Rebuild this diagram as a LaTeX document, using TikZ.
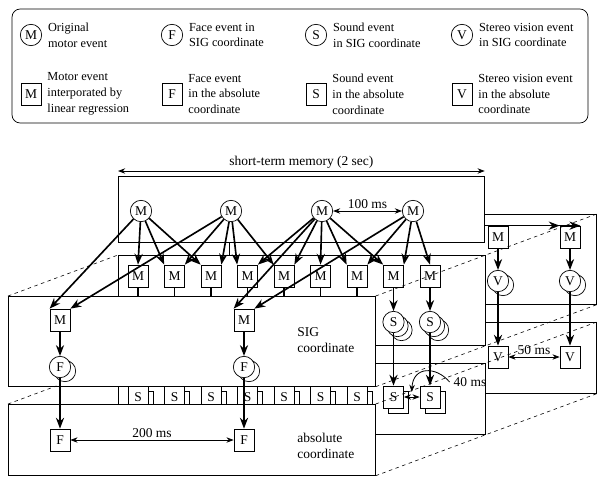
\documentclass[tikz,border=0pt]{standalone}
\usepackage{fontspec}
\setmainfont{Liberation Serif}
\usetikzlibrary{arrows.meta,calc,positioning}

\begin{document}
\begin{tikzpicture}[>=Stealth, x=0.03cm, y=-0.03cm,
  font=\fontsize{11.5}{13.6}\selectfont,
  plane/.style={draw, fill=white, line width=0.6pt, inner sep=0pt, anchor=north west, minimum width=11.01cm},
  sigplane/.style={plane, minimum height=2.7cm},
  absplane/.style={plane, minimum height=2.13cm},
  orig/.style={circle, draw, fill=white, line width=0.6pt, inner sep=0pt, minimum size=0.64cm},
  evt/.style={draw, fill=white, line width=0.6pt, inner sep=0pt, minimum width=0.6cm, minimum height=0.66cm},
  flow/.style={->, line width=1.4pt},
  span/.style={<->, line width=0.7pt},
  persp/.style={dashed, line width=0.5pt},
  legtxt/.style={align=left, inner sep=1pt, font=\fontsize{10.5}{13.6}\selectfont},
  planelab/.style={align=left, inner sep=1pt, anchor=west}]

  \useasboundingbox (0,0) rectangle (597,479);

  % legend
  \draw[line width=0.6pt, rounded corners=7pt] (12,9) rectangle (588,123);
  \node[orig] (lm) at (31,35) {M};
  \node[legtxt, right=4pt of lm] {Original\\motor event};
  \node[orig] (lf) at (172,35) {F};
  \node[legtxt, right=4pt of lf] {Face event in\\SIG coordinate};
  \node[orig] (ls) at (316,35) {S};
  \node[legtxt, right=4pt of ls] {Sound event\\in SIG coordinate};
  \node[orig] (lv) at (462,35) {V};
  \node[legtxt, right=4pt of lv] {Stereo vision event\\in SIG coordinate};
  \node[evt] (lmi) at (31,94) {M};
  \node[legtxt, right=4pt of lmi] {Motor event\\interporated by\\linear regression};
  \node[evt] (lfa) at (172,94) {F};
  \node[legtxt, right=4pt of lfa] {Face event\\in the absolute\\coordinate};
  \node[evt] (lsa) at (316,94) {S};
  \node[legtxt, right=4pt of lsa] {Sound event\\in the absolute\\coordinate};
  \node[evt] (lva) at (462,94) {V};
  \node[legtxt, right=4pt of lva] {Stereo vision event\\in the absolute\\coordinate};

  % stereo vision
  \node[sigplane] (vsig) at (229,214) {};
  \node[absplane] (vabs) at (229,322) {};
  \foreach \i/\vx in {1/498, 2/570} {
    \node[evt] (vm\i) at (\vx,237) {M};
    \node[orig] at ({\vx+5},285) {};
    \node[orig] (vc\i) at (\vx,281) {V};
    \node[evt] (vq\i) at (\vx,357) {V};
    \draw[flow] (vm\i) -- (vc\i);
    \draw[flow] (vc\i) -- (vq\i);
  }
  \draw[span] (vq1) -- node[above, inner sep=1.5pt] {50 ms} (vq2);

  % sound
  \node[sigplane] (ssig) at (118,255) {};
  \node[absplane] (sabs) at (118,363) {};
  \foreach \i in {1,...,9} {
    \pgfmathsetmacro\sx{138+36.5*(\i-1)}
    \node[evt] (sm\i) at (\sx,276) {M};
    \node[orig] at ({\sx+8},330) {};
    \node[orig] at ({\sx+4},326) {};
    \node[orig] (sc\i) at (\sx,322) {S};
    \node[evt] at ({\sx+5},402) {};
    \node[evt] (sq\i) at (\sx,397) {S};
    \draw[flow] (sm\i) -- (sc\i);
    \draw[flow] (sc\i) -- (sq\i);
  }
  \draw[span] (sq8) -- (sq9);
  \node (t40) at (470,382) {40 ms};
  \coordinate (g40) at ($(sq8.east)!0.5!(sq9.west)+(0,-5)$);
  \draw[->, line width=0.7pt] (t40.west) .. controls (436,366) and (413,366) .. (g40);

  % motor
  \node[plane, minimum width=10.98cm, minimum height=1.98cm] (mot) at (118,176) {};
  \coordinate (stmL) at ($(mot.north west)+(0,-5)$);
  \coordinate (stmR) at ($(mot.north east)+(0,-5)$);
  \draw[span] (stmL) -- node[above, inner sep=1.5pt] {short-term memory (2 sec)} (stmR);
  \foreach \i/\mx in {1/141, 2/231, 3/322, 4/413}
    \node[orig] (m\i) at (\mx,211) {M};
  \draw[span] (m3) -- node[above, inner sep=1.5pt] {100 ms} (m4);
  \coordinate (vtap) at (mot.east |- vm2.north);
  \draw[flow] (vtap) -- (vm2.north west);
  \draw[flow] (vtap) -- (vm2.north east);
  \foreach \src/\dst in {m1/sm1.north, m1/sm2.north west, m2/sm2.north east,
      m1/sm3.north west, m2/sm3.north east, m2/sm4.north west, m3/sm4.north east,
      m2/sm5.north west, m3/sm5.north east, m3/sm6.north, m3/sm7.north west,
      m4/sm7.north east, m3/sm8.north west, m4/sm8.north east, m4/sm9.north}
    \draw[flow] (\src) -- (\dst);

  % face
  \node[sigplane] (fsig) at (8,296) {};
  \node[absplane] (fabs) at (8,404) {};
  \foreach \i/\fx in {1/60, 2/244} {
    \node[evt] (fm\i) at (\fx,320) {M};
    \node[orig] at ({\fx+5},371) {};
    \node[orig] (fc\i) at (\fx,367) {F};
    \node[evt] (fq\i) at (\fx,440) {F};
    \draw[flow] (fm\i) -- (fc\i);
  }
  \draw[span] (fq1) -- node[above, inner sep=1.5pt] {200 ms} (fq2);
  \node[planelab] (siglab) at (296,340) {SIG\\coordinate};
  \node[planelab] (abslab) at (296,446) {absolute\\coordinate};
  \draw[flow] (m1) -- (fm1.north west);
  \draw[flow] (m2) -- (fm1.north east);
  \draw[flow] (m3) -- (fm2.north west);
  \draw[flow] (m4) -- (fm2.north east);
  \draw[flow] (fc1) -- (fq1);
  \draw[flow] (fc2) -- (fq2);

  % perspective
  \draw[persp] (fsig.north west) -- (ssig.north west);
  \draw[persp] (fsig.north east) -- (ssig.north east) -- (vsig.north east);
  \draw[persp] (fsig.south east) -- (ssig.south east) -- (vsig.south east);
  \draw[persp] (fabs.north west) -- ($(fabs.north west)!0.44!(sabs.north west)$);
  \draw[persp] (fabs.north east) -- (sabs.north east) -- (vabs.north east);
  \draw[persp] (fabs.south east) -- (sabs.south east) -- (vabs.south east);
\end{tikzpicture}
\end{document}
